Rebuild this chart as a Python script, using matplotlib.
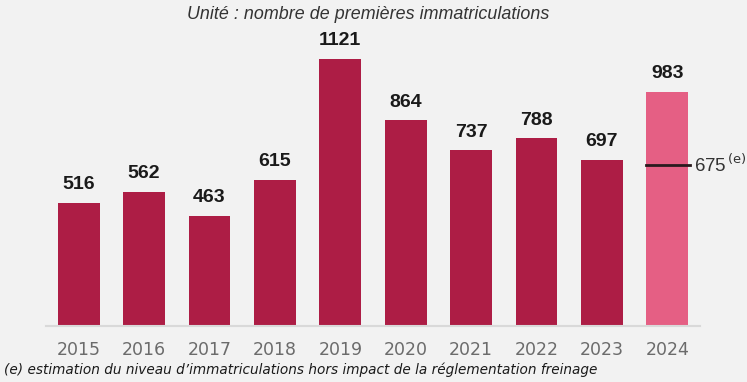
import matplotlib.pyplot as plt

annees = ["2015", "2016", "2017", "2018", "2019", "2020", "2021", "2022", "2023", "2024"]
valeurs = [516, 562, 463, 615, 1121, 864, 737, 788, 697, 983]
estimation_2024 = 675

fond = "#f2f2f2"
rouge = "#ad1d45"
rose = "#e55f84"

plt.rcParams['font.family'] = ['Liberation Sans Narrow', 'DejaVu Sans']

fig = plt.figure(figsize=(7.47, 3.82), dpi=100, facecolor=fond)
ax = fig.add_axes([0.0616, 0.1466, 0.8755, 0.7749], facecolor=fond)

couleurs = [rouge] * (len(annees) - 1) + [rose]
x = list(range(len(annees)))
barres = ax.bar(x, valeurs, width=0.64, color=couleurs)

for xi, v in zip(x, valeurs):
    ax.annotate(str(v), (xi, v), xytext=(0, 7), textcoords="offset points",
                ha="center", va="bottom", fontsize=14, fontweight="bold",
                color="#1a1a1a", family=['Liberation Sans', 'DejaVu Sans'])

# repere de l'estimation 2024
ax.plot([9 - 0.32, 9 + 0.34], [estimation_2024, estimation_2024], color="#2a1a1e", lw=2)
ax.annotate("675$^{\\,\\mathrm{(e)}}$", (9 + 0.36, estimation_2024), xytext=(2, 0),
            textcoords="offset points", ha="left", va="center", fontsize=13.5,
            color="#333333", family=['Liberation Sans', 'DejaVu Sans'])

ax.set_xlim(-0.5, 9.5)
ax.set_ylim(0, 1243)
ax.set_xticks(x)
ax.set_xticklabels(annees, fontsize=12.5, color="#6b6b6b")
ax.tick_params(axis="x", length=0, pad=11)
ax.set_yticks([])
for s in ["top", "right", "left"]:
    ax.spines[s].set_visible(False)
ax.spines["bottom"].set_color("#d9d9d9")
ax.spines["bottom"].set_linewidth(1.5)

fig.text(0.493, 0.963, "Unité : nombre de premières immatriculations", ha="center", va="center",
         fontsize=12.9, style="italic", color="#333333", family=['Liberation Sans', 'DejaVu Sans'])
fig.text(0.006, 0.032, "(e) estimation du niveau d\u2019immatriculations hors impact de la réglementation freinage",
         ha="left", va="center", fontsize=9.8, style="italic", color="#1a1a1a")

fig.savefig("out.png", dpi=100, facecolor=fond)
